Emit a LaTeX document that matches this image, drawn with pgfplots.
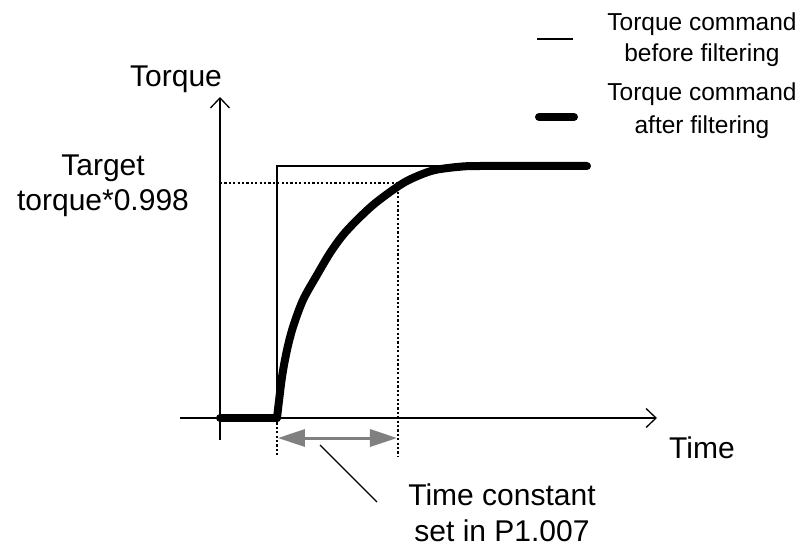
\documentclass[border=0pt]{standalone}
\usepackage{pgfplots}
\pgfplotsset{compat=1.18}
\usepackage{fontspec}
\setmainfont{Liberation Sans}
\usetikzlibrary{arrows.meta}

\definecolor{arrowgray}{RGB}{128,128,128}
\tikzset{
    dotted line/.style={black, line width=1.2pt, dash pattern=on 2.2pt off 2.2pt},
    txt/.style={font=\fontsize{30}{36}\selectfont, anchor=base, inner sep=0pt},
    lgd/.style={font=\fontsize{24.5}{30}\selectfont, anchor=base, inner sep=0pt},
}

\begin{document}
\begin{tikzpicture}
\begin{axis}[
    x=1pt, y=1pt,
    xmin=-40, xmax=437,
    ymin=-22, ymax=321,
    axis lines=middle,
    xtick=\empty, ytick=\empty,
    clip=false,
    every inner x axis line/.append style={line width=1.3pt,-{Straight Barb[length=10pt,width=19pt]}},
    every inner y axis line/.append style={line width=1.3pt,-{Straight Barb[length=10pt,width=19pt]}},
]
% bounding box of the figure
\path (axis cs:-220,-129) rectangle (axis cs:592,418);

% dotted guides
\addplot [dotted line] coordinates {(0,235) (178,235)};
\addplot [dotted line] coordinates {(178,235) (178,-39)};
\addplot [dotted line] coordinates {(57,0) (57,-39)};

% torque command before filtering (step)
\addplot [black, line width=1.3pt] coordinates {(0,0) (57,0) (57,252) (367,252)};

% torque command after filtering
\addplot [black, line width=8pt, line cap=round, line join=round] coordinates {(0,0) (57,0)};
\addplot [black, line width=8pt, line cap=round, line join=round, smooth, tension=0.5] coordinates {
(57,0) (62,41) (67,68) (73,91) (83,118) (97,143) (110,165) (123,183)
(137,198) (153,213) (170,226) (185,236) (200,243) (215,248) (237,251)
(260,252) (367,252)};

% time constant arrow
\addplot [arrowgray, line width=3pt,
  {Triangle[length=27pt,width=17pt]}-{Triangle[length=27pt,width=17pt]}]
  coordinates {(58,-20) (177,-20)};
\addplot [black, line width=1.3pt] coordinates {(100,-27) (157,-84)};

% legend samples
\addplot [black, line width=1.3pt] coordinates {(317,379) (353,379)};
\addplot [black, line width=8pt, line cap=round] coordinates {(319,301) (354,301)};

% labels
\node [txt] at (axis cs:-44,331) {Torque};
\node [txt] at (axis cs:-117,243) {Target};
\node [txt] at (axis cs:-117,208) {torque*0.998};
\node [txt] at (axis cs:482,-40) {Time};
\node [txt] at (axis cs:282,-87) {Time constant};
\node [txt] at (axis cs:282,-123) {set in P1.007};

\node [lgd] at (axis cs:482,387) {Torque command};
\node [lgd] at (axis cs:482,356) {before filtering};
\node [lgd] at (axis cs:482,317) {Torque command};
\node [lgd] at (axis cs:482,285) {after filtering};
\end{axis}
\end{tikzpicture}
\end{document}
